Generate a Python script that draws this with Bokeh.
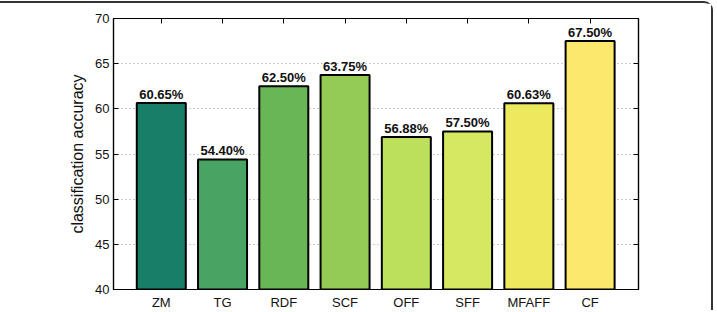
from bokeh.plotting import figure
from bokeh.models import Range1d, FixedTicker, LinearAxis, ColumnDataSource
from bokeh.core.properties import value
from bokeh.embed import file_html
from bokeh.resources import INLINE

categories = ["ZM", "TG", "RDF", "SCF", "OFF", "SFF", "MFAFF", "CF"]
accuracy = [60.65, 54.40, 62.50, 63.75, 56.88, 57.50, 60.63, 67.50]
bar_colors = ["#177e67", "#48a462", "#69b657", "#93cb55", "#bde05c", "#d6e762", "#ece95e", "#fce86c"]
y_ticks = [40, 45, 50, 55, 60, 65, 70]

FONT = "Liberation Sans"
xs = list(range(1, len(categories) + 1))
src = ColumnDataSource(dict(
    x=xs, top=accuracy, color=bar_colors,
    label=["%.2f%%" % v for v in accuracy],
))

p = figure(width=713, height=309, output_backend="svg", toolbar_location=None,
           x_range=Range1d(0.22, 8.79), y_range=Range1d(40, 70),
           min_border_left=113, min_border_right=75, min_border_top=15, min_border_bottom=22)
p.styles = {"border-top": "2px solid #333", "border-right": "2px solid #333",
            "border-top-right-radius": "9px", "margin-top": "1px"}
p.background_fill_color = "white"
p.border_fill_color = "white"
p.outline_line_color = "black"
p.outline_line_width = 1.2

p.vbar(x="x", top="top", bottom=40, width=0.8, fill_color="color",
       line_color="black", line_width=2, source=src)
p.text(x="x", y="top", text="label", source=src, text_align="center",
       text_baseline="bottom", y_offset=-1, text_font=value(FONT),
       text_font_size="13px", text_font_style="bold", text_color="#111")

# axes
xa = p.xaxis[0]
xa.ticker = FixedTicker(ticks=xs)
xa.major_label_overrides = {i: c for i, c in zip(xs, categories)}
xa.major_tick_in = 0
xa.major_tick_out = 0
xa.minor_tick_line_color = None
xa.major_label_standoff = 5
xa.axis_line_color = "black"
xa.axis_line_width = 1.2
xa.major_label_text_font = FONT
xa.major_label_text_font_size = "13px"
xa.major_label_text_color = "#111"

ya = p.yaxis[0]
ya.ticker = FixedTicker(ticks=y_ticks)
ya.major_tick_in = 5
ya.major_tick_out = 0
ya.minor_tick_line_color = None
ya.major_label_standoff = 4
ya.axis_line_color = "black"
ya.axis_line_width = 1.2
ya.major_label_text_font = FONT
ya.major_label_text_font_size = "13px"
ya.major_label_text_color = "#111"
ya.axis_label = "classification accuracy"
ya.axis_label_text_font = FONT
ya.axis_label_text_font_size = "16px"
ya.axis_label_text_font_style = "normal"
ya.axis_label_text_color = "#111"
ya.axis_label_standoff = 6

ra = LinearAxis(ticker=FixedTicker(ticks=y_ticks),
                major_label_overrides={t: "" for t in y_ticks},
                major_tick_in=5, major_tick_out=0, minor_tick_line_color=None,
                axis_line_color="black", axis_line_width=1.2, major_label_standoff=0)
p.add_layout(ra, "right")
ta = LinearAxis(ticker=FixedTicker(ticks=xs),
                major_label_overrides={t: "" for t in xs},
                major_tick_in=5, major_tick_out=0, minor_tick_line_color=None,
                axis_line_color="black", axis_line_width=1.2, major_label_standoff=0)
p.add_layout(ta, "above")

p.xgrid.grid_line_color = None
p.ygrid.ticker = FixedTicker(ticks=y_ticks)
p.ygrid.grid_line_color = "#999999"
p.ygrid.grid_line_dash = "1 3"
p.ygrid.grid_line_width = 1

open("out.html", "w").write(file_html(p, INLINE))
